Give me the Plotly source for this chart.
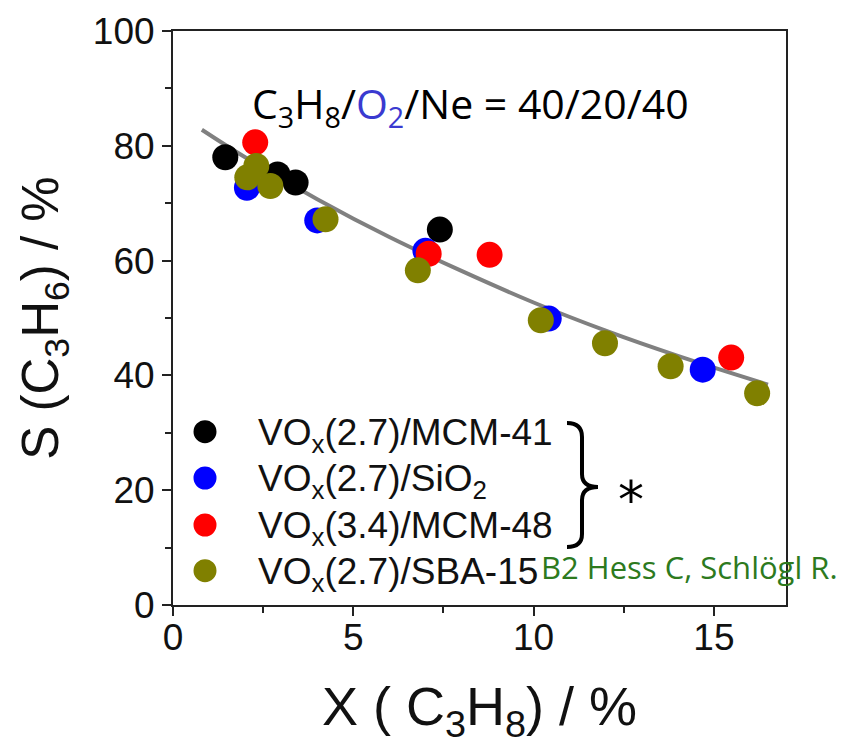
import plotly.graph_objects as go

# ---- data ----
series_names = [
    "VO<sub>x</sub>(2.7)/MCM-41",
    "VO<sub>x</sub>(2.7)/SiO<sub>2</sub>",
    "VO<sub>x</sub>(3.4)/MCM-48",
    "VO<sub>x</sub>(2.7)/SBA-15",
]
series_colors = ["#000000", "#0000ff", "#ff0000", "#808000"]

mcm41_x = [1.45, 2.9, 3.4, 7.4]
mcm41_y = [78.0, 75.0, 73.6, 65.4]

sio2_x = [2.05, 4.0, 7.0, 10.42, 14.69]
sio2_y = [72.7, 67.0, 61.7, 49.9, 41.0]

mcm48_x = [2.28, 7.09, 8.78, 15.48]
mcm48_y = [80.6, 61.2, 61.0, 43.1]

sba15_x = [2.06, 2.31, 2.7, 4.23, 6.79, 10.2, 11.98, 13.8, 16.2]
sba15_y = [74.5, 76.5, 73.0, 67.2, 58.3, 49.6, 45.6, 41.6, 36.9]

fit_x = [0.8, 2, 4, 6, 8, 10, 12, 14, 16.5]
fit_y = [82.8, 78.0, 70.7, 64.1, 58.2, 52.7, 47.8, 43.4, 38.4]

x_ticks = [0, 5, 10, 15]
y_ticks = [0, 20, 40, 60, 80, 100]

# ---- geometry helpers (pixel -> paper) ----
W, H = 845, 748
L, R, T, B = 173, 786, 31, 605


def px(x):
    return (x - L) / (R - L)


def py(y):
    return (B - y) / (B - T)


fig = go.Figure()

fig.add_trace(go.Scatter(x=fit_x, y=fit_y, mode="lines", line=dict(color="#808080", width=4, shape="spline"),
                         showlegend=False, hoverinfo="skip"))

all_x = [mcm41_x, sio2_x, mcm48_x, sba15_x]
all_y = [mcm41_y, sio2_y, mcm48_y, sba15_y]
for name, col, xs, ys in zip(series_names, series_colors, all_x, all_y):
    fig.add_trace(go.Scatter(x=xs, y=ys, mode="markers", name=name,
                             marker=dict(color=col, size=26, line=dict(width=0)),
                             showlegend=False))

shapes = []
annotations = []

# custom legend
leg_rows = [431.7, 478, 525, 570.7]
for name, col, yy in zip(series_names, series_colors, leg_rows):
    r = 11.5
    shapes.append(dict(type="circle", xref="paper", yref="paper",
                       x0=px(205 - r), x1=px(205 + r), y0=py(yy + r), y1=py(yy - r),
                       fillcolor=col, line=dict(width=0)))
    annotations.append(dict(text=name, xref="paper", yref="paper", x=px(256), y=py(yy + 3),
                            xanchor="left", yanchor="middle", showarrow=False,
                            font=dict(family="Liberation Sans, Arial", size=37, color="#111")))

# curly brace
brace_pts = "M{},{} Q{},{} {},{} L{},{} Q{},{} {},{} Q{},{} {},{} L{},{} Q{},{} {},{}"
coords = [(567, 423), (582, 423), (582, 437), (582, 474), (582, 487), (598, 487),
          (582, 487), (582, 500), (582, 534), (582, 547), (567, 547)]
flat = []
for cx, cy in coords:
    flat += [round(px(cx), 5), round(py(cy), 5)]
shapes.append(dict(type="path", xref="paper", yref="paper", path=brace_pts.format(*flat),
                   line=dict(color="#000", width=4)))

annotations.append(dict(text="*", xref="paper", yref="paper", x=px(631), y=py(500),
                        xanchor="center", yanchor="middle", showarrow=False,
                        font=dict(family="DejaVu Sans", size=52, color="#000")))

annotations.append(dict(text="B2 Hess C, Schlögl R.", xref="paper", yref="paper", x=px(539), y=py(567),
                        xanchor="left", yanchor="middle", showarrow=False,
                        font=dict(family="Open Sans, DejaVu Sans", size=31, color="#2d7a1e")))

annotations.append(dict(text="C<sub>3</sub>H<sub>8</sub>/<span style='color:#3a3ad0'>O<sub>2</sub></span>/Ne = 40/20/40",
                        xref="paper", yref="paper", x=px(470), y=py(105),
                        xanchor="center", yanchor="middle", showarrow=False,
                        font=dict(family="Open Sans, DejaVu Sans", size=41, color="#000")))

axis_common = dict(showline=True, linecolor="#222", linewidth=2, mirror=True, ticks="outside",
                   tickwidth=2, ticklen=9, tickcolor="#222", showgrid=False, zeroline=False,
                   tickfont=dict(family="Liberation Sans, Arial", size=37, color="#111"))

fig.update_layout(
    width=W, height=H,
    margin=dict(l=L, r=W - R, t=T, b=H - B, autoexpand=False),
    paper_bgcolor="white", plot_bgcolor="white",
    shapes=shapes, annotations=annotations,
    xaxis=dict(range=[0, 17], tickvals=x_ticks, **axis_common, ticklabelstandoff=-10,
               minor=dict(dtick=2.5, tick0=0, ticks="outside", ticklen=6, tickwidth=2, tickcolor="#222"),
               title=dict(text="X ( C<sub>3</sub>H<sub>8</sub>) / %", standoff=30,
                          font=dict(family="Liberation Sans, Arial", size=54, color="#111"))),
    yaxis=dict(range=[0, 100], tickvals=y_ticks, **axis_common,
               minor=dict(dtick=10, tick0=0, ticks="outside", ticklen=6, tickwidth=2, tickcolor="#222"),
               title=dict(text="S (C<sub>3</sub>H<sub>6</sub>) / %", standoff=18,
                          font=dict(family="Liberation Sans, Arial", size=51, color="#111"))),
)

fig.write_html("out.html")
